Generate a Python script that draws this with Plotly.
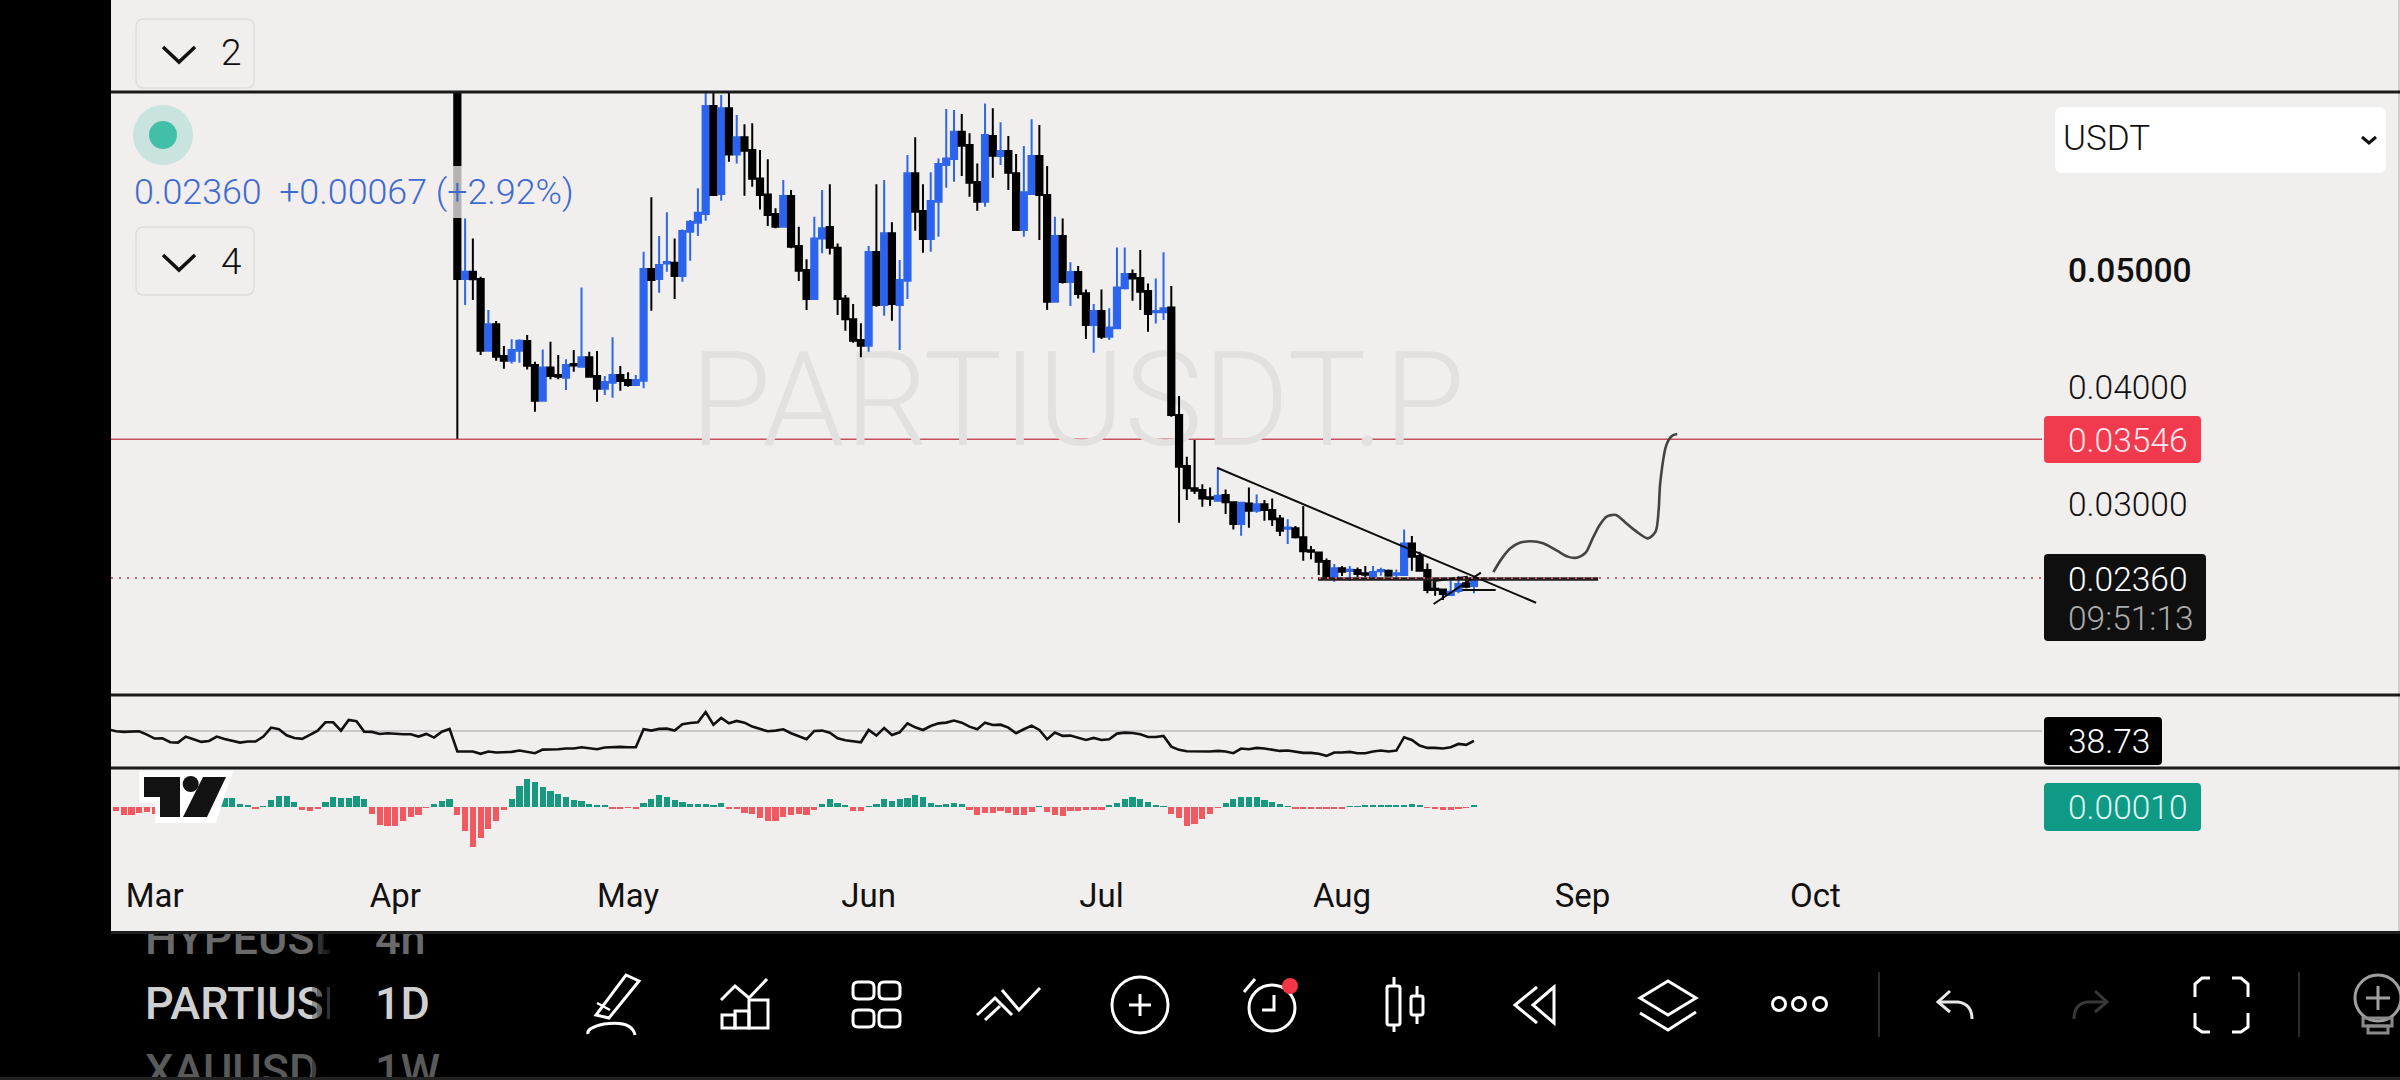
import pandas as pd
import plotly.graph_objects as go

# ---------- data ----------
candle_start = "2025-04-09"
opens = [.085,.04917,.04979,.04917,.04304,.04529,.04258,.04218,.04304,.04386,
 .04181,.03876,.04161,.04096,.04073,.04190,.04167,.04247,.04087,.03979,
 .04030,.04096,.04053,.04010,.04047,.05002,.04917,.05050,.05056,.04942,
 .05321,.05398,.05472,.06396,.05643,.06376,.05982,.06128,.06020,.05777,
 .05640,.05472,.05364,.05626,.05199,.04993,.04746,.05264,.05361,.05184,
 .04751,.04572,.04395,.04347,.05147,.04694,.05307,.04694,.04902,.0582,
 .05498,.05259,.05578,.05891,.05943,.06176,.06062,.05746,.05578,.06139,
 .05968,.06011,.0582,.05335,.05643,.05968,.05635,.04723,.05284,.04891,
 .04976,.04794,.04523,.04643,.04423,.04495,.04837,.04959,.04925,.04814,
 .04632,.04632,.04674,.03754,.03318,.03127,.03112,.03050,.03021,.03070,
 .03007,.02822,.02998,.02936,.0299,.02941,.02870,.02782,.02785,.02708,
 .02597,.02579,.02505,.02366,.02443,.0242,.02429,.024,.02371,.02417,
 .02423,.02389,.02386,.02656,.02548,.02429,.02269,.02263,.02215,.02249,
 .02315,.02293]
closes = [.04917,.04979,.04914,.04304,.04529,.04252,.04218,.04309,.04389,.04176,
 .03876,.04161,.04087,.04082,.04181,.04178,.04247,.04081,.03979,.04036,
 .04096,.04044,.04010,.04053,.05002,.04908,.05036,.05062,.04942,.05327,
 .05407,.05484,.06396,.05635,.06376,.05982,.06128,.06014,.05774,.05635,
 .05464,.05364,.05626,.05193,.04988,.04746,.05264,.05350,.05184,.04746,
 .04572,.04389,.04347,.05147,.04694,.05307,.04703,.04908,.0582,.05492,
 .05259,.05583,.059,.05948,.06176,.06057,.0574,.05578,.06148,.05971,
 .06011,.05826,.05335,.05658,.05968,.05635,.04723,.05284,.04891,.04976,
 .04788,.04523,.04643,.04423,.04503,.04845,.04959,.04922,.04808,.04617,
 .04643,.04666,.03754,.03312,.03127,.03107,.03041,.03038,.03064,.03007,
 .02822,.03004,.02936,.0299,.02941,.02862,.02765,.02793,.02708,.02588,
 .02585,.025,.02366,.02443,.02414,.02431,.02394,.02389,.02411,.02429,
 .0238,.024,.02656,.02542,.02423,.02257,.02257,.02223,.02243,.02309,
 .02286,.0236]
highs = [.09,.05435,.05264,.04937,.04652,.04557,.04344,.04401,.04401,.04438,
 .04210,.04315,.04381,.04267,.04230,.04309,.04845,.04295,.04301,.04087,
 .04418,.04173,.04119,.04096,.05150,.05615,.05284,.05487,.05264,.05341,
 .05421,.05692,.06504,.0652,.06490,.0652,.06319,.06239,.06248,.06020,
 .0594,.05521,.05763,.05677,.05364,.05085,.05449,.05677,.05726,.05221,
 .0478,.04703,.04538,.05199,.05726,.05763,.05401,.05079,.05977,.06128,
 .05726,.05829,.05948,.0637,.06361,.06327,.06162,.05905,.06418,.06376,
 .06256,.06139,.05985,.06054,.06282,.06233,.05883,.05449,.05435,.05059,
 .05028,.04828,.04703,.04828,.04666,.05187,.05187,.04999,.05164,.04879,
 .04922,.05145,.04857,.03916,.03397,.0354,.03161,.03135,.03303,.03118,
 .03007,.03013,.03135,.03075,.03027,.03041,.02899,.02862,.02805,.02976,
 .02634,.02579,.02528,.0248,.02463,.02463,.02451,.02463,.02463,.02448,
 .02434,.02434,.02776,.02719,.02585,.02485,.02329,.02263,.02349,.02377,
 .02372,.02377]
lows = [.0355,.04694,.04737,.04267,.04295,.04218,.04150,.04195,.04201,.04144,
 .03782,.03876,.04059,.04059,.03968,.04124,.04167,.04076,.03868,.03925,
 .03902,.03962,.03996,.04007,.03982,.04646,.04800,.04979,.04746,.04894,
 .05073,.05284,.05415,.05635,.05586,.05920,.05905,.05629,.05706,.05512,
 .05370,.05350,.05364,.05179,.04899,.04651,.04737,.05136,.05127,.04609,
 .04475,.04372,.04247,.04295,.0468,.04603,.0456,.04309,.04746,.0533,
 .05142,.0515,.05278,.05697,.05749,.05797,.0562,.05501,.05535,.05783,
 .05891,.05677,.05335,.05278,.05635,.0525,.04651,.04714,.04879,.04686,
 .04751,.04404,.04287,.04404,.04395,.04495,.04828,.04731,.04651,.04466,
 .04537,.04566,.03739,.02833,.03027,.03078,.0297,.02976,.03021,.02907,
 .02776,.02722,.0279,.02919,.0285,.02805,.02719,.02651,.02699,.02508,
 .0252,.02386,.02366,.02329,.02377,.02334,.02366,.02366,.02366,.0238,
 .02372,.02357,.02386,.02423,.02423,.02229,.02209,.02172,.02215,.02229,
 .02272,.02229]

rsi_start = "2025-02-23"
rsi_values = [51.9,
 49.6,48.9,48.9,49.6,45.9,41.4,41.7,37.2,36.8,43.6,
 40.6,37.6,38.7,43.6,41.0,39.1,36.8,38.0,38.0,43.6,
 53.8,51.9,45.1,42.1,41.0,45.5,50.4,59.8,59.8,50.4,
 62.4,60.9,49.2,48.9,46.6,47.4,46.6,46.2,46.2,43.6,
 46.6,42.5,49.2,52.3,26.7,27.1,26.7,24.1,26.7,25.6,
 25.6,26.3,27.8,26.3,24.8,28.9,28.9,29.3,30.1,30.1,
 31.6,30.4,29.3,31.2,32.0,32.0,31.6,31.6,51.9,50.4,
 52.3,52.6,50.4,57.5,59.0,59.8,71.4,57.1,64.7,58.6,
 61.3,59.4,54.9,52.6,49.6,50.4,51.9,47.4,43.6,40.6,
 50.0,50.4,48.1,41.7,39.5,38.0,37.2,51.1,44.7,53.4,
 45.5,48.5,58.6,54.1,51.1,55.6,58.6,59.4,61.7,59.4,
 54.9,51.9,59.4,56.8,57.1,53.8,47.4,51.9,56.0,51.1,
 40.6,48.1,44.4,44.7,42.5,39.8,42.1,39.8,40.6,47.0,
 48.1,47.7,46.2,43.2,43.2,44.4,32.3,28.6,27.1,26.7,
 26.3,26.7,27.4,26.7,24.8,30.1,29.3,30.8,30.1,28.9,
 27.4,27.8,26.7,25.2,25.2,24.1,21.8,25.6,25.6,26.3,
 24.8,24.8,26.7,27.8,26.7,27.8,42.9,39.8,33.5,30.8,
 30.8,30.1,31.6,35.3,34.2,38.73]

macd_start = "2025-02-24"
macd_unit = 2.5e-5
macd_hist = [-11,-24,-24,-18,-16,-22,-12,-4,3,10,18,24,26,26,26,26,10,5,-4,3,
 22,32,32,14,-10,-13,-6,15,30,28,28,32,24,-22,-54,-57,-57,-42,-31,-24,
 -3,9,19,25,-24,-72,-119,-92,-66,-42,-9,25,62,85,74,59,47,40,29,20,
 17,10,6,4,-4,-4,-3,-6,12,25,37,29,20,14,8,8,10,6,11,-7,
 -5,-17,-22,-33,-41,-41,-29,-24,-20,-24,-10,8,23,13,4,-11,-11,3,10,23,
 18,24,27,35,30,11,5,10,11,8,-10,-24,-19,-17,-11,-19,-24,-24,-16,3,
 -15,-24,-27,-11,-11,-9,-9,-9,6,13,23,30,25,14,6,3,-20,-34,-57,-52,
 -35,-21,-2,11,23,30,30,30,21,15,8,3,-5,-5,-7,-7,-7,-7,-7,3,
 3,5,5,5,5,5,7,8,6,-3,-7,-8,-8,-6,-3,4]

last_price = 0.0236
alert_price = 0.03546
rsi_level = 50
price_ticks = [0.05, 0.04, 0.03]
price_tick_text = ["0.05000", "0.04000", "0.03000"]
price_tick_weight = [500, 300, 300]
month_ticks = ["2025-03-01","2025-04-01","2025-05-01","2025-06-01","2025-07-01","2025-08-01","2025-09-01","2025-10-01"]
month_labels = ["Mar","Apr","May","Jun","Jul","Aug","Sep","Oct"]

# hand-drawn items, as days since 1 March and price
base = pd.Timestamp("2025-03-01")
curve_days = [172.5,173.6,174.7,175.9,177.3,178.9,180.7,182.1,183.2,184.4,185.3,186.2,187.1,188.3,189.4,190.8,192.4,193.4,193.8,194.0,194.8,195.5,196.2]
curve_prices = [.02411,.02528,.02614,.02662,.02674,.02657,.02594,.02543,.02534,.02577,.02699,.02813,.02885,.02899,.02842,.02765,.02699,.02756,.02942,.0317,.03497,.03574,.03591]
trend_days = [136.9, 178.0]
trend_prices = [.03303, .02149]
band_days = [149.9, 186.0]
band_prices = [.02352, .02352]
wedge_days = [164.8, 170.9, None, 164.8, 164.8, 169.2, None, 168.5, 172.8]
wedge_prices = [.02138, .02406, None, .02252, .02334, .02371, None, .02257, .02257]

tickers = ["HYPEUSD", "PARTIUSD", "XAUUSD"]
ticker_colors = ["#6a6a6a", "#d0d0d0", "#5a5a5a"]
frames = ["4h", "1D", "1W"]

def to_dates(days):
    return [None if d is None else (base + pd.Timedelta(days=d)).isoformat() for d in days]

# ---------- layout helpers (pixel → paper) ----------
W, H = 2400, 1080
BG = "#f1eeee"
fx = lambda x: x / W
fy = lambda y: 1 - y / H
dom_x = lambda a, b: [a / W, b / W]
dom_y = lambda top, bot: [1 - bot / H, 1 - top / H]
shapes, annots = [], []

def path(pts, close=False):
    s = "M " + " L ".join(f"{fx(x):.5f},{fy(y):.5f}" for x, y in pts)
    return s + (" Z" if close else "")

def poly(pts, fill=None, line=None, lw=0, close=True, layer="above"):
    shapes.append(dict(type="path", xref="paper", yref="paper", path=path(pts, close), layer=layer,
                       fillcolor=fill if fill else "rgba(0,0,0,0)",
                       line=dict(color=line if line else "rgba(0,0,0,0)", width=lw)))

def curve(d, line, lw):
    shapes.append(dict(type="path", xref="paper", yref="paper", path=d, layer="above",
                       fillcolor="rgba(0,0,0,0)", line=dict(color=line, width=lw)))

def rect(x0, y0, x1, y1, fill=None, line=None, lw=0, layer="above"):
    shapes.append(dict(type="rect", xref="paper", yref="paper", x0=fx(x0), x1=fx(x1), y0=fy(y0), y1=fy(y1), layer=layer,
                       fillcolor=fill if fill else "rgba(0,0,0,0)",
                       line=dict(color=line if line else "rgba(0,0,0,0)", width=lw)))

def rrect(x0, y0, x1, y1, r, fill=None, line=None, lw=0):
    q = lambda a, b: f"{fx(a):.5f},{fy(b):.5f}"
    d = (f"M {q(x0+r,y0)} L {q(x1-r,y0)} Q {q(x1,y0)} {q(x1,y0+r)} L {q(x1,y1-r)} Q {q(x1,y1)} {q(x1-r,y1)} "
         f"L {q(x0+r,y1)} Q {q(x0,y1)} {q(x0,y1-r)} L {q(x0,y0+r)} Q {q(x0,y0)} {q(x0+r,y0)} Z")
    shapes.append(dict(type="path", xref="paper", yref="paper", path=d, layer="above",
                       fillcolor=fill if fill else "rgba(0,0,0,0)",
                       line=dict(color=line if line else "rgba(0,0,0,0)", width=lw)))

def circ(cx, cy, r, fill=None, line=None, lw=0):
    shapes.append(dict(type="circle", xref="paper", yref="paper", x0=fx(cx-r), x1=fx(cx+r), y0=fy(cy-r), y1=fy(cy+r), layer="above",
                       fillcolor=fill if fill else "rgba(0,0,0,0)",
                       line=dict(color=line if line else "rgba(0,0,0,0)", width=lw)))

def label(x, y, text, size=34, color="#111", weight=300, anchor="left"):
    annots.append(dict(xref="paper", yref="paper", x=fx(x), y=fy(y), text=text, showarrow=False,
                       xanchor=anchor, yanchor="middle", borderpad=0,
                       font=dict(family="Roboto", size=size, color=color, weight=weight)))

# ---------- traces ----------
fig = go.Figure()
candle_dates = pd.date_range(candle_start, periods=len(opens))
fig.add_trace(go.Candlestick(x=candle_dates, open=opens, high=highs, low=lows, close=closes,
    increasing=dict(line=dict(color="#2f66e8", width=2), fillcolor="#2a62f2"),
    decreasing=dict(line=dict(color="#000000", width=2), fillcolor="#000000"),
    whiskerwidth=0, hoverinfo="skip", showlegend=False, xaxis="x", yaxis="y"))
fig.add_trace(go.Scatter(x=to_dates(band_days), y=band_prices, mode="lines", line=dict(color="#2a1c1c", width=3.5), hoverinfo="skip", showlegend=False))
fig.add_trace(go.Scatter(x=to_dates(trend_days), y=trend_prices, mode="lines", line=dict(color="#0c0c0c", width=2), hoverinfo="skip", showlegend=False))
fig.add_trace(go.Scatter(x=to_dates(wedge_days), y=wedge_prices, mode="lines", line=dict(color="#0c0c0c", width=2), connectgaps=False, hoverinfo="skip", showlegend=False))
fig.add_trace(go.Scatter(x=to_dates(curve_days), y=curve_prices, mode="lines", line=dict(color="#444444", width=2.6, shape="spline", smoothing=0.8), hoverinfo="skip", showlegend=False))
fig.add_trace(go.Scatter(x=pd.date_range(rsi_start, periods=len(rsi_values)), y=rsi_values, mode="lines",
    line=dict(color="#111111", width=2.6), hoverinfo="skip", showlegend=False, yaxis="y2"))
fig.add_trace(go.Bar(x=pd.date_range(macd_start, periods=len(macd_hist)), y=[v * macd_unit for v in macd_hist],
    width=86400000 * 0.8, marker=dict(color=["#18987f" if v >= 0 else "#f25860" for v in macd_hist], line=dict(width=0)),
    hoverinfo="skip", showlegend=False, yaxis="y3"))

# clipped bottom-left lists, drawn on their own small axes
row_y = [943, 1008, 1075]
fig.add_trace(go.Scatter(x=[145, 145, 145], y=row_y, text=tickers, mode="text", textposition="middle right",
    textfont=dict(family="Roboto", size=45, color=ticker_colors, weight=500), hoverinfo="skip", showlegend=False, xaxis="x2", yaxis="y4"))
fig.add_trace(go.Scatter(x=[375, 375, 375], y=row_y, text=frames, mode="text", textposition="middle right",
    textfont=dict(family="Roboto", size=45, color=ticker_colors, weight=500), hoverinfo="skip", showlegend=False, xaxis="x3", yaxis="y5"))

# ---------- value-based lines ----------
shapes.append(dict(type="line", xref="x domain", yref="y", x0=0, x1=1, y0=alert_price, y1=alert_price, layer="below", line=dict(color="#c8505e", width=1.6)))
shapes.append(dict(type="line", xref="x domain", yref="y", x0=0, x1=1, y0=last_price, y1=last_price, layer="above", line=dict(color="#c9606c", width=2, dash="2px,6px")))
shapes.append(dict(type="line", xref="x domain", yref="y2", x0=0, x1=1, y0=rsi_level, y1=rsi_level, layer="below", line=dict(color="#bdbbbb", width=1.6)))
# watermark sits behind the candles
shapes.append(dict(type="rect", xref="paper", yref="paper", x0=fx(690), x1=fx(1465), y0=fy(440), y1=fy(340), layer="below",
    fillcolor="rgba(0,0,0,0)", line=dict(width=0),
    label=dict(text="PARTIUSDT.P", textposition="middle center", font=dict(family="Roboto", size=132, color="#e3e0e0", weight=300))))

# ---------- chrome ----------
rect(132, 166, 576, 218, fill="rgba(241,238,238,0.75)")
rect(0, 0, 111, H, fill="#000000")
rect(0, 931, W, H, fill="#000000", layer="below")
rect(111, 931, W, 934, fill="#1f1f1f", layer="below")
rect(0, 1077, W, H, fill="#222222")
rect(2398, 0, W, 931, fill="#d0cdcd")
for y in (92, 695, 768):
    rect(111, y - 1.5, W, y + 1.5, fill="#1a1a1a")
for i in range(4):  # fade at the end of the ticker column
    rect(312 + i * 5, 934, 332, 1077, fill="rgba(0,0,0,0.3)")

# top-left panel
rrect(136, 19, 254, 88, 8, fill=BG, line="#dfdddd", lw=1.5)
rrect(136, 227, 254, 295, 8, fill=BG, line="#dfdddd", lw=1.5)
poly([(163, 47), (179, 62), (195, 47)], line="#111", lw=3.5, close=False)
poly([(163, 255), (179, 270), (195, 255)], line="#111", lw=3.5, close=False)
label(231, 53, "2", size=37, anchor="center")
label(231, 261, "4", size=37, anchor="center")
circ(163, 135, 30, fill="#c9e3de")
circ(163, 135, 14, fill="#42bfa8")
label(132.5, 192, "0.02360&nbsp;&nbsp;+0.00067 (+2.92%)", size=35.8, color="#3d6bd0", weight=300)

# right side
rrect(2055, 107, 2386, 173, 8, fill="#ffffff")
label(2061.5, 138.5, "USDT", size=35, color="#111", weight=300)
poly([(2362, 137), (2369, 143), (2376, 137)], line="#111", lw=3, close=False)
for value, text, weight in zip(price_ticks, price_tick_text, price_tick_weight):
    annots.append(dict(xref="paper", yref="y", x=fx(2066.5), y=value, yshift=-1.5, text=text, showarrow=False, xanchor="left", yanchor="middle", borderpad=0,
                       font=dict(family="Roboto", size=33.5, color="#111111", weight=weight)))
rrect(2044, 416, 2201, 463, 4, fill="#f23a4e")
label(2066.5, 440, "0.03546", size=33.5, color="#fde9ec")
rrect(2044, 554, 2206, 641, 4, fill="#0f0f0f")
label(2066.5, 579, "0.02360", size=33.5, color="#ffffff")
label(2066.5, 618, "09:51:13", size=33.5, color="#ababab")
rrect(2044, 717, 2162, 765, 4, fill="#000000")
label(2066.5, 741, "38.73", size=33.5, color="#ffffff")
rrect(2044, 783, 2201, 831, 4, fill="#0e9a85")
label(2066.5, 807, "0.00010", size=33.5, color="#dff5f0")

# logo
poly([(139, 771), (233, 771), (216, 823), (155, 823), (155, 803), (139, 803)], fill="#ffffff")
poly([(144, 777), (180, 777), (180, 817), (160, 817), (160, 797), (144, 797)], fill="#131313")
circ(190.7, 784, 8, fill="#131313")
poly([(203, 777), (226, 777), (207, 817), (183, 817)], fill="#131313")

# toolbar icons
WH = "#ffffff"
poly([(626, 975), (639, 981), (609, 1018), (596, 1015)], line=WH, lw=3)
poly([(597, 1003), (610, 1010)], line=WH, lw=2.5, close=False)
q = lambda a, b: f"{fx(a):.5f},{fy(b):.5f}"
curve(f"M {q(588,1034)} Q {q(586,1028)} {q(604,1024)} Q {q(632,1020)} {q(635,1035)}", WH, 3)
poly([(721, 1000), (735, 986), (749, 998), (767, 979)], line=WH, lw=3, close=False)
poly([(722, 1028), (722, 1015), (735, 1015), (735, 1028)], line=WH, lw=3)
poly([(735, 1028), (735, 1011), (749, 1011), (749, 1028)], line=WH, lw=3)
poly([(749, 1028), (749, 1000), (768, 1000), (768, 1028)], line=WH, lw=3)
for x0, x1 in ((853, 874), (879, 900)):
    for y0, y1 in ((982, 999), (1010, 1027)):
        rrect(x0, y0, x1, y1, 5, line=WH, lw=3)
poly([(977, 1015), (995, 998), (1012, 1015)], line=WH, lw=3, close=False)
poly([(1002, 990), (1019, 1010), (1040, 988)], line=WH, lw=3, close=False)
poly([(985, 1020), (1000, 1006)], line=WH, lw=3, close=False)
circ(1140, 1005, 28, line=WH, lw=3)
poly([(1129, 1005), (1151, 1005)], line=WH, lw=3, close=False)
poly([(1140, 994), (1140, 1016)], line=WH, lw=3, close=False)
circ(1272, 1008, 23, line=WH, lw=3)
poly([(1244, 992), (1255, 979)], line=WH, lw=3, close=False)
poly([(1274, 995), (1274, 1010), (1262, 1010)], line=WH, lw=3, close=False)
circ(1290, 986, 8, fill="#f23645")
poly([(1394, 977), (1394, 986)], line=WH, lw=3, close=False)
poly([(1394, 1025), (1394, 1032)], line=WH, lw=3, close=False)
rrect(1387, 986, 1400, 1025, 2, line=WH, lw=3)
poly([(1417, 986), (1417, 996)], line=WH, lw=3, close=False)
poly([(1417, 1015), (1417, 1024)], line=WH, lw=3, close=False)
rrect(1411, 996, 1423, 1015, 2, line=WH, lw=3)
poly([(1537, 987), (1515, 1005), (1537, 1023)], line=WH, lw=3, close=False)
poly([(1554, 987), (1533, 1005), (1554, 1023)], line=WH, lw=3)
poly([(1668, 981), (1696, 998), (1668, 1015), (1640, 998)], line=WH, lw=3)
poly([(1640, 1013), (1668, 1030), (1696, 1012)], line=WH, lw=3, close=False)
for x in (1779, 1799, 1820):
    circ(x, 1004, 6.5, line=WH, lw=3)
rect(1878, 972, 1880, 1037, fill="#2a2a2a")
rect(2298, 972, 2300, 1037, fill="#2a2a2a")
poly([(1950, 991), (1938, 1002), (1950, 1012)], line="#e8e8e8", lw=3, close=False)
curve(f"M {q(1938,1002)} L {q(1958,1002)} Q {q(1972,1004)} {q(1972,1019)}", "#e8e8e8", 3)
poly([(2095, 991), (2107, 1002), (2095, 1012)], line="#383838", lw=3, close=False)
curve(f"M {q(2107,1002)} L {q(2087,1002)} Q {q(2074,1004)} {q(2074,1019)}", "#383838", 3)
for pts in ([(2195, 997), (2195, 984), (2202, 978), (2210, 978)],
            [(2248, 997), (2248, 984), (2241, 978), (2232, 978)],
            [(2195, 1013), (2195, 1027), (2202, 1032), (2210, 1032)],
            [(2248, 1013), (2248, 1027), (2241, 1032), (2232, 1032)]):
    poly(pts, line=WH, lw=3, close=False)
circ(2378, 998, 23, line="#a0a0a0", lw=3)
poly([(2366, 998), (2390, 998)], line="#a0a0a0", lw=3, close=False)
poly([(2378, 986), (2378, 1010)], line="#a0a0a0", lw=3, close=False)
rect(2363, 1018, 2392, 1026, line="#8a8a8a", lw=3)
rect(2368, 1026, 2388, 1033, line="#8a8a8a", lw=3)

# ---------- layout ----------
hidden = dict(visible=False, fixedrange=True)
fig.update_layout(
    width=W, height=H, margin=dict(l=0, r=0, t=0, b=0), autosize=False,
    paper_bgcolor=BG, plot_bgcolor="rgba(0,0,0,0)", showlegend=False, bargap=0, boxgap=0.2, boxgroupgap=0,
    xaxis=dict(domain=dom_x(111, 2042), anchor="y3",
               range=[(base + pd.Timedelta(days=-5.63)).isoformat(), (base + pd.Timedelta(days=243.2)).isoformat()],
               rangeslider=dict(visible=False), showgrid=False, zeroline=False, showline=False,
               tickmode="array", tickvals=month_ticks, ticktext=month_labels, ticks="outside", ticklen=10, tickcolor="rgba(0,0,0,0)",
               tickfont=dict(family="Roboto", size=33, color="#111111")),
    yaxis=dict(domain=dom_y(93, 695), range=[0.0136, 0.06507], anchor="x", **hidden),
    yaxis2=dict(domain=dom_y(697, 767), range=[9.2, 88.4], anchor="x", **hidden),
    yaxis3=dict(domain=dom_y(770, 856.5), range=[-148.5 * macd_unit, 111 * macd_unit], anchor="x", **hidden),
    xaxis2=dict(domain=dom_x(145, 330), range=[145, 330], anchor="y4", **hidden),
    yaxis4=dict(domain=dom_y(934, 1077), range=[1077, 934], anchor="x2", **hidden),
    xaxis3=dict(domain=dom_x(370, 480), range=[370, 480], anchor="y5", **hidden),
    yaxis5=dict(domain=dom_y(934, 1077), range=[1077, 934], anchor="x3", **hidden),
    shapes=shapes, annotations=annots,
)
fig.write_html("out.html", config=dict(displayModeBar=False), post_script="document.body.style.margin='0';document.documentElement.style.overflow='hidden';")
